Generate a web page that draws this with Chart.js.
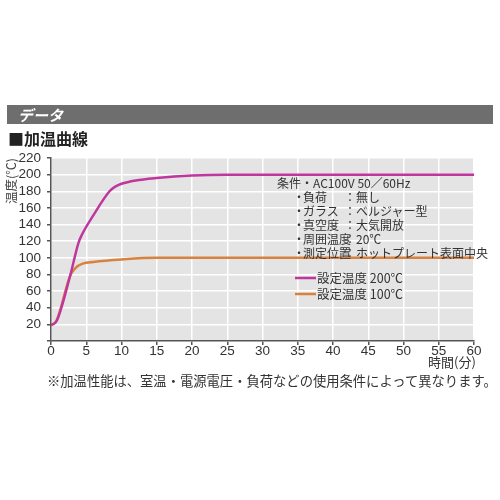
<!DOCTYPE html>
<html lang="ja">
<head>
<meta charset="utf-8">
<script src="https://cdn.jsdelivr.net/npm/chart.js@4"></script>
<style>
    body { margin: 0; background: #fff; font-family: "Noto Sans CJK JP", "Liberation Sans", sans-serif; }
    #wrap { position: relative; width: 500px; height: 500px; }
    #chart { position: absolute; left: 0; top: 0; }
    .txt { position: absolute; white-space: nowrap; color: #333; line-height: 1; }
    #header { position: absolute; left: 7px; top: 105px; width: 486px; height: 19px; background: #6e6e6e; }
    #header span { position: absolute; left: 11px; top: 2px; color: #fff; font-weight: bold; font-style: italic; font-size: 15px; line-height: 1; }
    #title { left: 8px; top: 130px; font-size: 16px; font-weight: bold; color: #222; }
    #xtitle { left: 428px; top: 355px; font-size: 13px; }
    #note { left: 47px; top: 374px; font-size: 13.3px; }
    .cond { font-size: 12px; color: #333; }
</style>
</head>
<body>
<div id="wrap">
    <canvas id="chart" width="500" height="500"></canvas>
    <div id="header"><span>データ</span></div>
    <div class="txt" id="title">■加温曲線</div>
    <div class="txt" id="xtitle">時間(分)</div>
    <div class="txt" id="note">※加温性能は、室温・電源電圧・負荷などの使用条件によって異なります。</div>
    <div id="conds"></div>
</div>
<script>
// measured curves (minutes / deg C)
const time200 = [0, 0.8, 2.7, 3.9, 4.4, 6, 8.3, 9, 10, 12, 15, 20, 25, 30, 60];
const temp200 = [19, 24, 78, 118, 128, 151, 180, 185, 189, 193, 196, 199, 200, 200, 200];
const time100 = [0, 0.8, 2.7, 3.5, 4.5, 6, 10, 15, 20, 60];
const temp100 = [19, 25, 78, 88, 93, 95, 98, 100, 100, 100];
const seriesLabels = ['設定温度 200℃', '設定温度 100℃'];
const seriesColors = ['#bf379e', '#d9823f'];

const xTicks = [0, 5, 10, 15, 20, 25, 30, 35, 40, 45, 50, 55, 60];
const yTicks = [0, 20, 40, 60, 80, 100, 120, 140, 160, 180, 200, 220];
const yTitle = '温度(℃)';

const condLabels = ['負荷', 'ガラス', '真空度', '周囲温度', '測定位置'];
const condValues = ['無し', 'ベルジャー型', '大気開放', '20℃', 'ホットプレート表面中央'];

// condition text block
const conds = document.getElementById('conds');
function addText(str, left, top) {
    const d = document.createElement('div');
    d.className = 'txt cond';
    d.style.left = left + 'px';
    d.style.top = top + 'px';
    d.textContent = str;
    conds.appendChild(d);
}
addText('条件・AC100V 50／60Hz', 277, 177);
condLabels.forEach((label, i) => {
    const top = 191 + i * 14;
    addText('・', 293, top);
    addText(label, 303, top);
    addText('：', 344, top);
    addText(condValues[i], 356, top);
});

const plotBackground = {
    id: 'plotBackground',
    beforeDraw(chart) {
        const { ctx, chartArea } = chart;
        ctx.save();
        ctx.fillStyle = '#e4e4e4';
        ctx.fillRect(chartArea.left, chartArea.top, chartArea.right - chartArea.left, chartArea.bottom - chartArea.top);
        ctx.restore();
    }
};

// y title and legend drawn by hand
const extras = {
    id: 'extras',
    afterDraw(chart) {
        const ctx = chart.ctx;
        ctx.save();
        ctx.translate(11, 181);
        ctx.rotate(-Math.PI / 2);
        ctx.font = '12.5px "Noto Sans CJK JP", sans-serif';
        ctx.fillStyle = '#444';
        ctx.textAlign = 'center';
        ctx.textBaseline = 'middle';
        ctx.fillText(yTitle, 0, 0);
        ctx.restore();

        ctx.save();
        ctx.font = '12.5px "Noto Sans CJK JP", sans-serif';
        ctx.textBaseline = 'middle';
        chart.data.datasets.forEach((ds, i) => {
            const y = 278 + i * 16;
            ctx.strokeStyle = ds.borderColor;
            ctx.lineWidth = 2.5;
            ctx.beginPath();
            ctx.moveTo(295, y);
            ctx.lineTo(316, y);
            ctx.stroke();
            ctx.fillStyle = '#333';
            ctx.fillText(ds.label, 317, y);
        });
        ctx.restore();
    }
};

const tickFont = { family: '"Liberation Sans", Arial, sans-serif', size: 13.5 };

new Chart(document.getElementById('chart'), {
    type: 'line',
    data: {
        datasets: [
            {
                label: seriesLabels[0],
                data: time200.map((x, i) => ({ x: x, y: temp200[i] })),
                borderColor: seriesColors[0],
                borderWidth: 2.5,
                pointRadius: 0,
                cubicInterpolationMode: 'monotone'
            },
            {
                label: seriesLabels[1],
                data: time100.map((x, i) => ({ x: x, y: temp100[i] })),
                borderColor: seriesColors[1],
                borderWidth: 2.5,
                pointRadius: 0,
                cubicInterpolationMode: 'monotone'
            }
        ]
    },
    options: {
        responsive: false,
        devicePixelRatio: 1,
        animation: false,
        layout: { padding: { left: 0, right: 26, top: 158, bottom: 134 } },
        plugins: {
            legend: { display: false },
            tooltip: { enabled: false }
        },
        scales: {
            x: {
                type: 'linear',
                min: 0,
                max: 60,
                afterFit(scale) { scale.height = 25; },
                afterBuildTicks(scale) { scale.ticks = xTicks.map(v => ({ value: v })); },
                ticks: { color: '#333', font: tickFont, padding: -2, maxRotation: 0, autoSkip: false },
                grid: { color: '#ffffff', lineWidth: 1.5, tickColor: '#555', tickLength: 4 },
                border: { color: '#555', width: 1.5 }
            },
            y: {
                min: 0,
                max: 220,
                afterFit(scale) { scale.width = 51; },
                afterBuildTicks(scale) { scale.ticks = yTicks.map(v => ({ value: v })); },
                ticks: {
                    color: '#333',
                    font: tickFont,
                    padding: 6,
                    autoSkip: false,
                    callback: v => (v === 0 ? '' : v)
                },
                grid: { color: '#ffffff', lineWidth: 1.5, tickColor: '#555', tickLength: 4 },
                border: { color: '#555', width: 1.5 }
            }
        }
    },
    plugins: [plotBackground, extras]
});
</script>
</body>
</html>
